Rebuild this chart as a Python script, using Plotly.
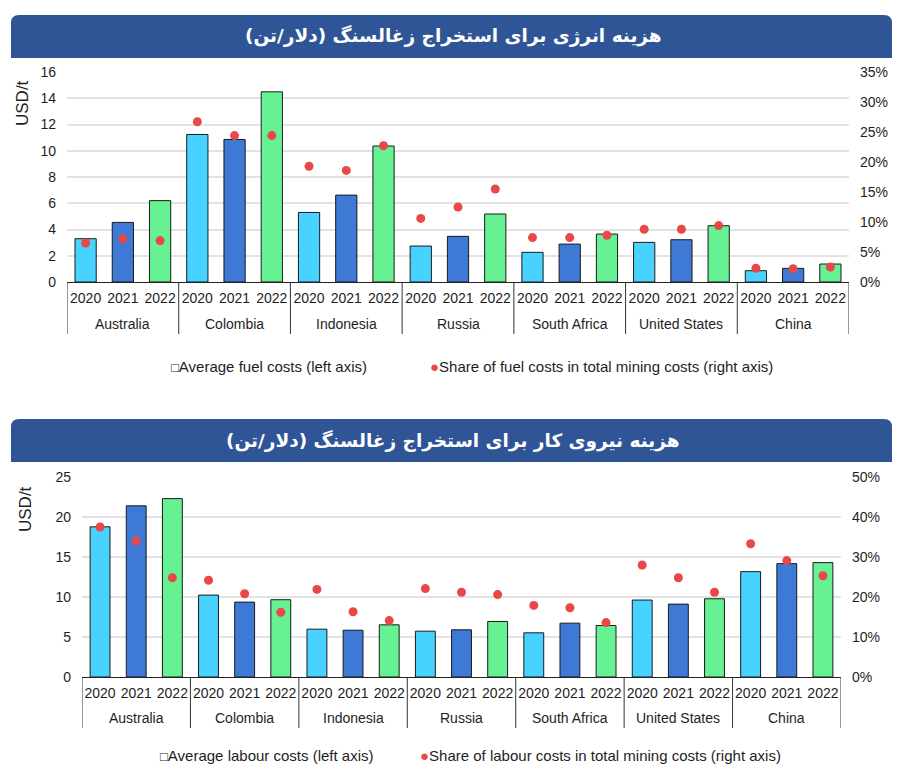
import plotly.graph_objects as go

# ---------------- data ----------------
countries = ["Australia", "Colombia", "Indonesia", "Russia", "South Africa", "United States", "China"]
years = ["2020", "2021", "2022"]

# Average fuel costs, USD/t (left axis)
fuel_cost = [3.3, 4.54, 6.2,
             11.24, 10.86, 14.49,
             5.3, 6.62, 10.36,
             2.74, 3.48, 5.18,
             2.26, 2.89, 3.65,
             3.02, 3.22, 4.29,
             0.86, 1.04, 1.37]
# Share of fuel costs in total mining costs, % (right axis)
fuel_share = [6.5, 7.2, 6.9,
              26.7, 24.4, 24.4,
              19.3, 18.6, 22.7,
              10.6, 12.5, 15.5,
              7.4, 7.4, 7.8,
              8.8, 8.8, 9.4,
              2.3, 2.2, 2.5]
# Average labour costs, USD/t (left axis)
labour_cost = [18.77, 21.4, 22.3,
               10.24, 9.36, 9.66,
               5.98, 5.85, 6.52,
               5.73, 5.9, 6.94,
               5.52, 6.73, 6.44,
               9.62, 9.11, 9.78,
               13.17, 14.17, 14.3]
# Share of labour costs in total mining costs, % (right axis)
labour_share = [37.5, 34.0, 24.8,
                24.2, 20.8, 16.2,
                21.9, 16.3, 14.1,
                22.1, 21.2, 20.6,
                17.9, 17.3, 13.6,
                28.0, 24.8, 21.2,
                33.3, 29.1, 25.3]

title_top = "هزینه انرژی برای استخراج زغالسنگ (دلار/تن)"
title_bottom = "هزینه نیروی کار برای استخراج زغالسنگ (دلار/تن)"
legend_fuel = ["Average fuel costs (left axis)", "Share of fuel costs in total mining costs (right axis)"]
legend_labour = ["Average labour costs (left axis)", "Share of labour costs in total mining costs (right axis)"]
y_title = "USD/t"

# ---------------- style ----------------
W, H = 912, 781
OFF = 8  # page body margin
year_colors = {"2020": "#48D2FF", "2021": "#3D79D5", "2022": "#66F292"}
dot_color = "#E84848"
banner_color = "#2F5597"
txt = "#1E1E1E"
SANS = "Liberation Sans, Arial, sans-serif"

keys = [f"{c} {y}" for c in countries for y in years]
year_text = [y for _ in countries for y in years]
bar_colors = [year_colors[y] for _ in countries for y in years]
n_cat = len(keys)
ny = len(years)


def fx(px):
    return (px - OFF) / W


def fy(py):
    return 1 - (py - OFF) / H


fig = go.Figure()

fig.add_trace(go.Bar(x=keys, y=fuel_cost, xaxis="x", yaxis="y", width=0.57,
                     marker=dict(color=bar_colors, line=dict(color="#1A1A1A", width=1)),
                     showlegend=False, hoverinfo="x+y"))
fig.add_trace(go.Scatter(x=keys, y=fuel_share, xaxis="x", yaxis="y2", mode="markers",
                         marker=dict(color=dot_color, size=9), showlegend=False))
fig.add_trace(go.Bar(x=keys, y=labour_cost, xaxis="x2", yaxis="y3", width=0.55,
                     marker=dict(color=bar_colors, line=dict(color="#1A1A1A", width=1)),
                     showlegend=False, hoverinfo="x+y"))
fig.add_trace(go.Scatter(x=keys, y=labour_share, xaxis="x2", yaxis="y4", mode="markers",
                         marker=dict(color=dot_color, size=9), showlegend=False))

tickf = dict(family=SANS, size=14, color=txt)

xcommon = dict(type="category", categoryorder="array", categoryarray=keys,
               tickvals=keys, ticktext=year_text,
               showline=True, linecolor="#222", linewidth=1,
               tickfont=tickf, tickangle=0, showgrid=False, ticks="", fixedrange=True,
               ticklabelstandoff=3, range=[-0.5, n_cat - 0.5], autorange=False)
ycommon = dict(showgrid=True, gridcolor="#E2E2E2", gridwidth=1.6, zeroline=False,
               showline=False, ticks="", tickfont=tickf, ticklabelstandoff=10, fixedrange=True)
ycommon_r = dict(showgrid=False, zeroline=False, showline=False, ticks="", tickfont=tickf,
                 ticksuffix="%", ticklabelstandoff=10, side="right", fixedrange=True)

fig.update_layout(
    width=W, height=H,
    margin=dict(l=0, r=0, t=0, b=0, autoexpand=False),
    paper_bgcolor="white", plot_bgcolor="white",
    showlegend=False,
    xaxis=dict(domain=[fx(67), fx(849)], anchor="y", **xcommon),
    yaxis=dict(domain=[fy(282), fy(72)], range=[0, 16], dtick=2, anchor="x", **ycommon),
    yaxis2=dict(overlaying="y", anchor="x", range=[0, 35], dtick=5, **ycommon_r),
    xaxis2=dict(domain=[fx(82), fx(841)], anchor="y3", **xcommon),
    yaxis3=dict(domain=[fy(677), fy(477)], range=[0, 25], dtick=5, anchor="x2", **ycommon),
    yaxis4=dict(overlaying="y3", anchor="x2", range=[0, 50], dtick=10, **ycommon_r),
)


def banner_path(x0, x1, y0, y1, r):
    X0, X1 = fx(x0), fx(x1)
    Yb, Yt = fy(y1), fy(y0)
    rx, ry = r / W, r / H
    return (f"M {X0},{Yb} L {X0},{Yt - ry} Q {X0},{Yt} {X0 + rx},{Yt} "
            f"L {X1 - rx},{Yt} Q {X1},{Yt} {X1},{Yt - ry} L {X1},{Yb} Z")


shapes = []
annotations = []
for (top, bot, ttl) in [(15, 58, title_top), (419, 462, title_bottom)]:
    shapes.append(dict(type="path", xref="paper", yref="paper",
                       path=banner_path(11, 892, top, bot, 8),
                       fillcolor=banner_color, line=dict(width=0), layer="below"))
    annotations.append(dict(xref="paper", yref="paper", x=fx(453), y=fy((top + bot) / 2),
                            text=f"<b>{ttl}</b>", showarrow=False,
                            font=dict(family="DejaVu Sans, Noto Sans, sans-serif", size=18.5, color="white"),
                            xanchor="center", yanchor="middle"))

# country group labels and dividers (positioned on the category axis)
for (xr, axis_y, label_y, div_bottom) in [("x", 282, 324, 334), ("x2", 677, 718, 728)]:
    for gi, c in enumerate(countries):
        annotations.append(dict(xref=xr, yref="paper", x=keys[gi * ny + 1], y=fy(label_y),
                                text=c, showarrow=False, font=tickf,
                                xanchor="center", yanchor="middle"))
    for gi in range(len(countries) + 1):
        xpos = gi * ny - 0.5
        shapes.append(dict(type="line", xref=xr, yref="paper", x0=xpos, x1=xpos,
                           y0=fy(axis_y), y1=fy(div_bottom),
                           line=dict(color="#333", width=1)))

# y-axis titles
for (xp, yp) in [(23, 103), (25, 509)]:
    annotations.append(dict(xref="paper", yref="paper", x=fx(xp), y=fy(yp), text=y_title,
                            textangle=-90, showarrow=False,
                            font=dict(family=SANS, size=17, color=txt),
                            xanchor="center", yanchor="middle"))

# legends
for (yp, labels, x1, x2) in [(366, legend_fuel, 169, 428), (755, legend_labour, 158, 418)]:
    annotations.append(dict(xref="paper", yref="paper", x=fx(x1), y=fy(yp),
                            text=f"<span style='font-size:13px'>□</span>{labels[0]}",
                            showarrow=False, font=dict(family=SANS, size=15, color=txt),
                            xanchor="left", yanchor="middle"))
    annotations.append(dict(xref="paper", yref="paper", x=fx(x2), y=fy(yp),
                            text=f"<span style='font-size:15px;color:{dot_color}'>●</span>{labels[1]}",
                            showarrow=False, font=dict(family=SANS, size=15, color=txt),
                            xanchor="left", yanchor="middle"))

fig.update_layout(shapes=shapes, annotations=annotations)

fig.write_html("out.html")
